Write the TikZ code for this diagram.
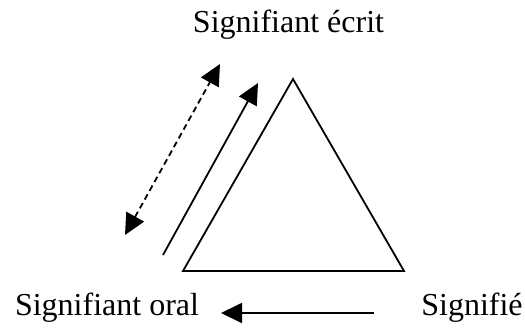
\documentclass[tikz,border=0pt]{standalone}
\usepackage{fontspec}
\setmainfont{Liberation Serif}
\usetikzlibrary{arrows.meta}
\begin{document}
\begin{tikzpicture}[x=1pt,y=-1pt,
    pointe/.tip={Triangle[length=21pt,width=20pt]},
    fleche/.style={line width=1.8pt,-pointe},
    etiquette/.style={font=\fontsize{32}{38}\selectfont,anchor=base,inner sep=0pt}]
  \useasboundingbox (0,0) rectangle (525,327);
  % textes
  \node[etiquette] (ecrit) at (288.5,32) {Signifiant écrit};
  \node[etiquette] (oral) at (107,315) {Signifiant oral};
  \node[etiquette] (signifie) at (472,315) {Signifié};
  % triangle
  \draw[line width=1.8pt,line join=miter] (293,79) -- (183,271) -- (404,271) -- cycle;
  % fleches
  \coordinate (a1) at (163,255);
  \coordinate (b1) at (258,83);
  \coordinate (a2) at (125,235);
  \coordinate (b2) at (220,64);
  \coordinate (c1) at (374,313);
  \coordinate (c2) at (221,313);
  \draw[fleche] (a1) -- (b1);
  \draw[fleche,pointe-pointe,dash pattern=on 6pt off 4pt] (a2) -- (b2);
  \draw[fleche] (c1) -- (c2);
\end{tikzpicture}
\end{document}
